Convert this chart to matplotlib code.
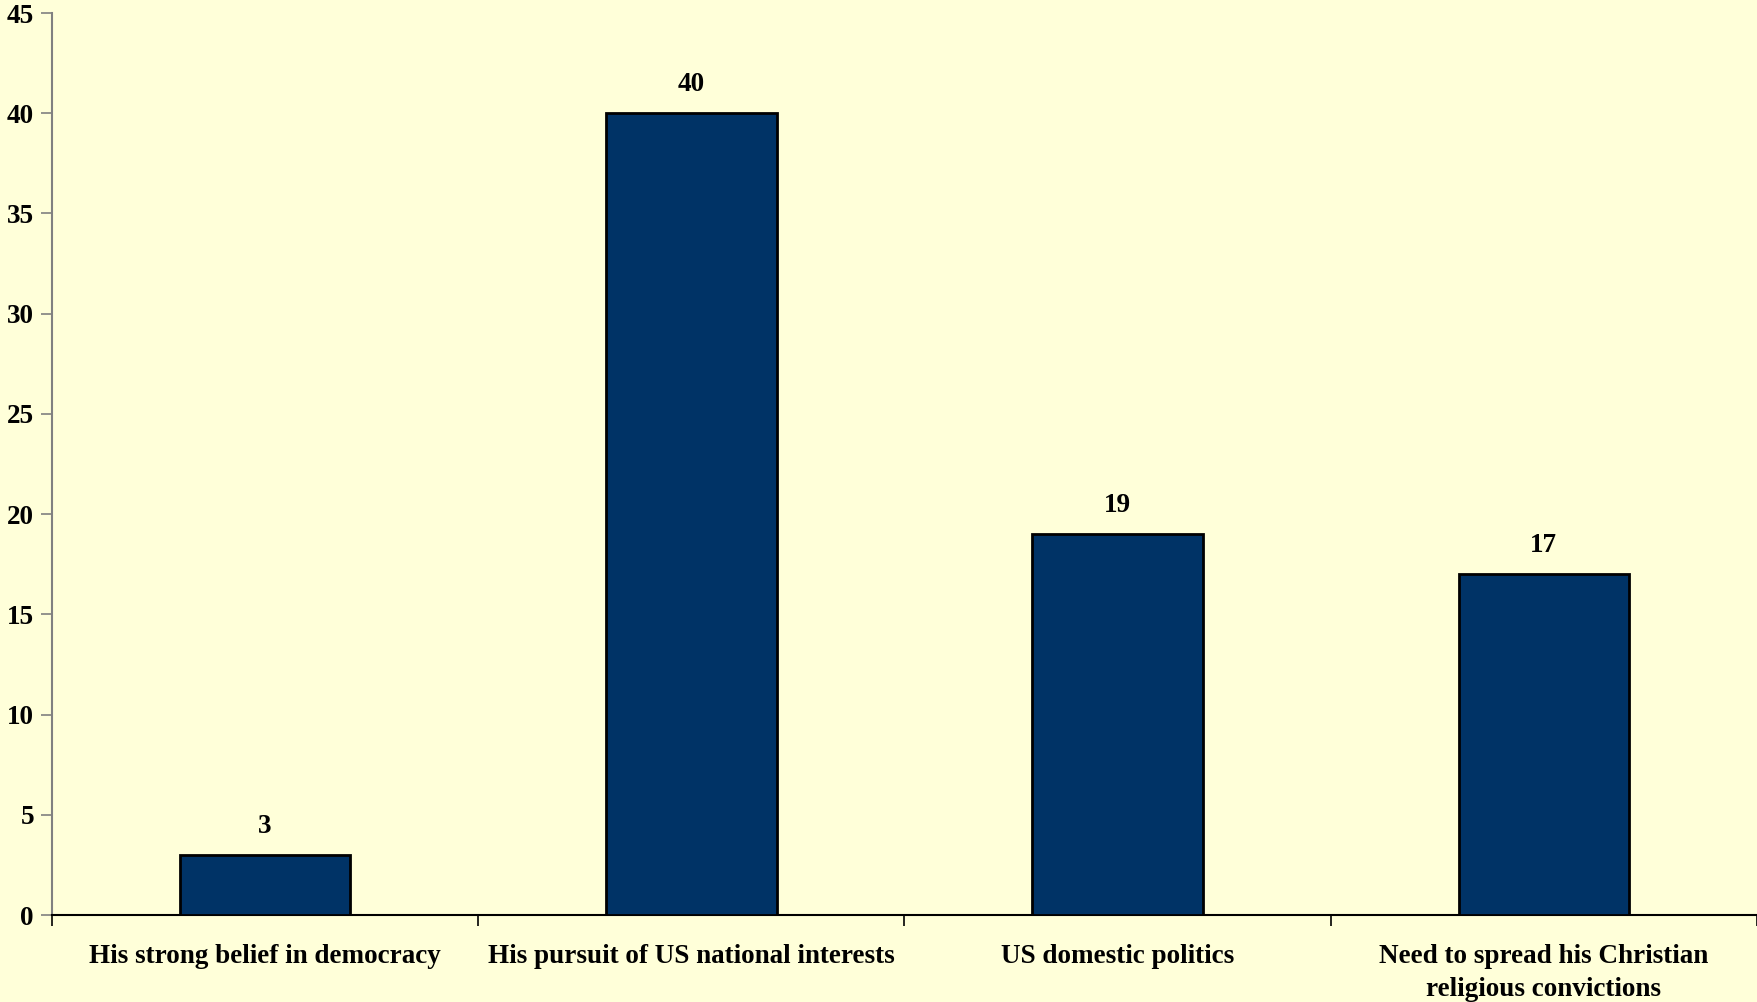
import matplotlib.pyplot as plt
import numpy as np

categories = ["His strong belief in democracy",
              "His pursuit of US national interests",
              "US domestic politics",
              "Need to spread his Christian\nreligious convictions"]
values = [3, 40, 19, 17]
yticks = [0, 5, 10, 15, 20, 25, 30, 35, 40, 45]

bg = "#FFFFD9"
plt.rcParams['font.family'] = ['Liberation Serif', 'DejaVu Serif']
plt.rcParams['font.weight'] = 'bold'

fig = plt.figure(figsize=(17.58, 10.02), dpi=100, facecolor=bg)
ax = fig.add_axes([0.0296, 0.0868, 0.9698, 0.9002], facecolor=bg)

x = np.arange(len(categories))
bars = ax.bar(x, values, width=0.4, color="#003366", edgecolor="black", linewidth=2, zorder=3)
for xi, v in zip(x, values):
    ax.text(xi, v + 0.8, str(v), ha="center", va="bottom", fontsize=19.5, fontweight="bold")

ax.set_xlim(-0.5, len(categories) - 0.5)
ax.set_ylim(0, 45)
ax.set_yticks(yticks)
ax.set_yticklabels([str(t) for t in yticks], fontsize=19.5, fontweight="bold")

# category labels between boundary ticks
ax.set_xticks(np.arange(len(categories) + 1) - 0.5)
ax.set_xticklabels([])
ax.tick_params(axis="x", length=8, width=1.2, color="black", direction="out")
ax.tick_params(axis="y", length=8, width=1.2, color="#808080", direction="out", pad=5)
for xi, lab in zip(x, categories):
    ax.text(xi, -1.45, lab, ha="center", va="top", fontsize=19.5, fontweight="bold",
            linespacing=1.4)

ax.spines["top"].set_visible(False)
ax.spines["right"].set_visible(False)
ax.spines["left"].set_color("#808080")
ax.spines["left"].set_linewidth(1.5)
ax.spines["bottom"].set_color("black")
ax.spines["bottom"].set_linewidth(1.5)

plt.savefig("out.png", dpi=100, facecolor=bg)
